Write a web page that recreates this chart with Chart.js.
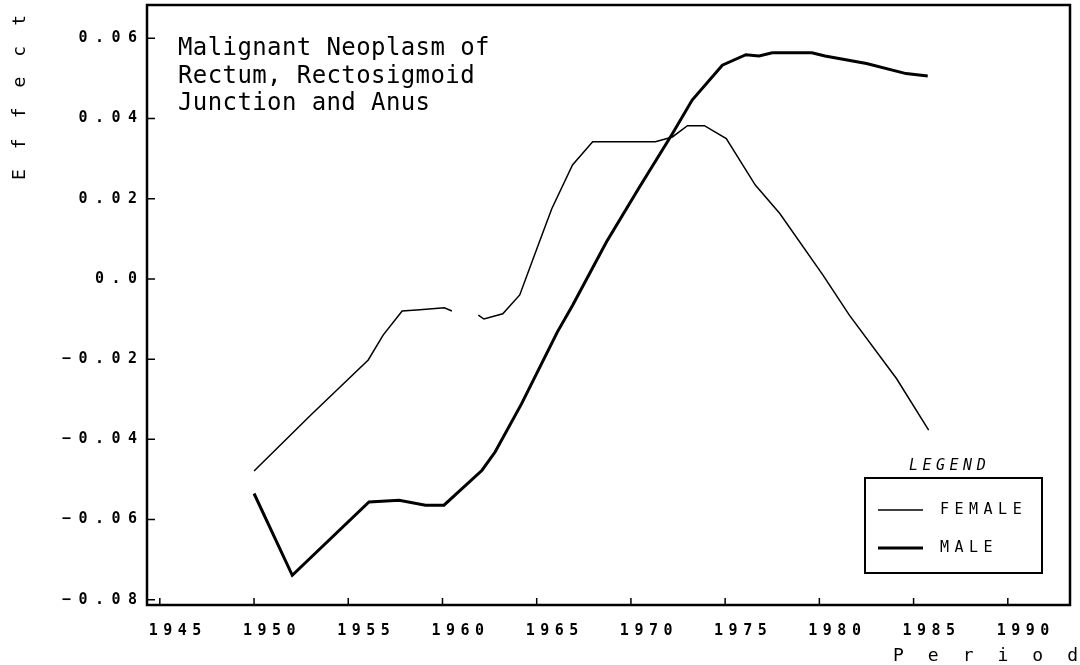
<!DOCTYPE html>
<html lang="en">
  <head>
    <meta charset="UTF-8" />
    <meta name="viewport" content="width=device-width, initial-scale=1.0" />
    <title>Malignant Neoplasm of Rectum, Rectosigmoid Junction and Anus</title>
    <style>
      html, body { margin: 0; padding: 0; background: #fff; }
      #wrap { width: 1080px; height: 665px; }
    </style>
  </head>
  <body>
    <div id="wrap">
      <canvas id="myChart"></canvas>
    </div>
    <script src="https://cdn.jsdelivr.net/npm/chart.js@4.4.1/dist/chart.umd.min.js"></script>
    <script>
      const titleLines = ["Malignant Neoplasm of", "Rectum, Rectosigmoid", "Junction and Anus"];

      // period (x) and effect (y); null = gap in the female line
      const femaleYears = [1950.0, 1953.0, 1956.06, 1956.85, 1957.86, 1958.8, 1960.1, 1960.5, 1961.2, 1961.9, 1962.2, 1963.2, 1964.1, 1965.14, 1965.8, 1966.9, 1967.97, 1971.3, 1972.2, 1973.0, 1973.9, 1975.06, 1976.6, 1977.9, 1980.2, 1981.6, 1984.1, 1985.8];
      const femaleEffect = [-0.0479, -0.034, -0.0202, -0.014, -0.008, -0.0077, -0.0072, -0.008, null, -0.009, -0.01, -0.0087, -0.004, 0.0092, 0.0175, 0.0284, 0.0342, 0.0342, 0.0354, 0.0382, 0.0382, 0.035, 0.0234, 0.0163, 0.0009, -0.0091, -0.0249, -0.0377];

      const maleYears = [1950.0, 1952.03, 1956.1, 1957.7, 1959.1, 1960.08, 1962.1, 1962.8, 1964.2, 1966.1, 1966.9, 1968.7, 1970.4, 1972.2, 1973.25, 1974.85, 1976.1, 1976.8, 1977.5, 1979.6, 1980.3, 1982.5, 1984.6, 1985.75];
      const maleEffect = [-0.0535, -0.0739, -0.0556, -0.0552, -0.0564, -0.0564, -0.0477, -0.0431, -0.0311, -0.0132, -0.0066, 0.0092, 0.0225, 0.0362, 0.0446, 0.0533, 0.0559, 0.0556, 0.0564, 0.0564, 0.0556, 0.0537, 0.0512, 0.0506];

      const yearTicks = [1945, 1950, 1955, 1960, 1965, 1970, 1975, 1980, 1985, 1990];
      const effectTicks = [-0.08, -0.06, -0.04, -0.02, 0, 0.02, 0.04, 0.06];
      const effectTickLabels = ["\u22120.08", "\u22120.06", "\u22120.04", "\u22120.02", "0.0", "0.02", "0.04", "0.06"];

      const toPoints = (xs, ys) => xs.map((x, i) => ({ x: x, y: ys[i] }));

      const framePlugin = {
        id: "frame",
        beforeDraw(chart) {
          chart.ctx.letterSpacing = "5.5px";
        },
        afterDraw(chart) {
          const ctx = chart.ctx;
          const a = chart.chartArea;
          const xs = chart.scales.x;
          const ys = chart.scales.y;
          ctx.save();
          ctx.letterSpacing = "0px";
          ctx.strokeStyle = "#000";
          ctx.fillStyle = "#000";

          ctx.lineWidth = 2.5;
          ctx.strokeRect(a.left, a.top, a.right - a.left, a.bottom - a.top);

          // inward tick marks
          ctx.lineWidth = 1.5;
          ctx.beginPath();
          yearTicks.forEach((v) => {
            const px = xs.getPixelForValue(v);
            ctx.moveTo(px, a.bottom);
            ctx.lineTo(px, a.bottom - 7);
          });
          effectTicks.forEach((v) => {
            const py = ys.getPixelForValue(v);
            ctx.moveTo(a.left, py);
            ctx.lineTo(a.left + 8, py);
          });
          ctx.stroke();

          // title inside the plot
          ctx.font = "24px 'DejaVu Sans Mono'";
          ctx.letterSpacing = "0.4px";
          ctx.textAlign = "left";
          ctx.textBaseline = "alphabetic";
          titleLines.forEach((t, i) => ctx.fillText(t, 178, 55 + i * 27.5));

          // axis titles
          ctx.font = "18px 'DejaVu Sans Mono'";
          ctx.letterSpacing = "24px";
          ctx.textBaseline = "middle";
          ctx.fillText("Period", 893, 656);
          ctx.save();
          ctx.translate(20, 180);
          ctx.rotate(-Math.PI / 2);
          ctx.letterSpacing = "20px";
          ctx.fillText("Effect", 0, 0);
          ctx.restore();

          // legend
          ctx.font = "italic 15px 'DejaVu Sans Mono'";
          ctx.letterSpacing = "4.5px";
          ctx.fillText("LEGEND", 909, 466);
          ctx.lineWidth = 2;
          ctx.strokeRect(865, 478, 177, 95);
          ctx.font = "15px 'DejaVu Sans Mono'";
          ctx.letterSpacing = "5.5px";
          chart.data.datasets.forEach((ds, i) => {
            const y = 510 + i * 38;
            ctx.lineWidth = ds.borderWidth;
            ctx.beginPath();
            ctx.moveTo(878, y);
            ctx.lineTo(923, y);
            ctx.stroke();
            ctx.fillText(ds.label, 940, y);
          });
          ctx.restore();
        },
      };

      // y labels are spaced a little wider than the x labels
      const widenLabels = (scale) => {
        if (scale._widened) return;
        scale._widened = true;
        const orig = scale.drawLabels;
        scale.drawLabels = function (area) {
          const c = this.ctx;
          const prev = c.letterSpacing;
          c.letterSpacing = "7.5px";
          orig.call(this, area);
          c.letterSpacing = prev;
        };
      };

      const ctx = document.getElementById("myChart").getContext("2d");

      const myChart = new Chart(ctx, {
        type: "line",
        data: {
          datasets: [
            {
              label: "FEMALE",
              data: toPoints(femaleYears, femaleEffect),
              borderColor: "#000",
              borderWidth: 1.5,
              pointRadius: 0,
              tension: 0,
              spanGaps: false,
            },
            {
              label: "MALE",
              data: toPoints(maleYears, maleEffect),
              borderColor: "#000",
              borderWidth: 3,
              pointRadius: 0,
              tension: 0,
            },
          ],
        },
        options: {
          responsive: true,
          maintainAspectRatio: false,
          animation: false,
          devicePixelRatio: 1,
          layout: {
            autoPadding: false,
            padding: { top: 5, right: 10, left: 0, bottom: 0 },
          },
          plugins: {
            legend: { display: false },
            tooltip: { enabled: false },
          },
          scales: {
            x: {
              type: "linear",
              min: 1944.32,
              max: 1993.3,
              afterFit: (scale) => {
                scale.height = 60;
                scale.paddingLeft = 0;
                scale.paddingRight = 0;
              },
              afterBuildTicks: (scale) => { scale.ticks = yearTicks.map((v) => ({ value: v })); },
              grid: { display: false, drawTicks: false },
              border: { display: false },
              ticks: {
                autoSkip: false,
                maxRotation: 0,
                padding: 17,
                labelOffset: 18,
                color: "#000",
                font: { family: "'DejaVu Sans Mono'", size: 15, weight: "bold" },
                callback: (v) => String(v),
              },
            },
            y: {
              min: -0.0813,
              max: 0.0683,
              afterFit: (scale) => {
                scale.width = 147;
                scale.paddingTop = 0;
                scale.paddingBottom = 0;
                widenLabels(scale);
              },
              afterBuildTicks: (scale) => { scale.ticks = effectTicks.map((v) => ({ value: v })); },
              grid: { display: false, drawTicks: false },
              border: { display: false },
              ticks: {
                autoSkip: false,
                padding: 2.5,
                color: "#000",
                font: { family: "'DejaVu Sans Mono'", size: 15, weight: "bold" },
                callback: (v, i) => effectTickLabels[i],
              },
            },
          },
        },
        plugins: [framePlugin],
      });
    </script>
  </body>
</html>
